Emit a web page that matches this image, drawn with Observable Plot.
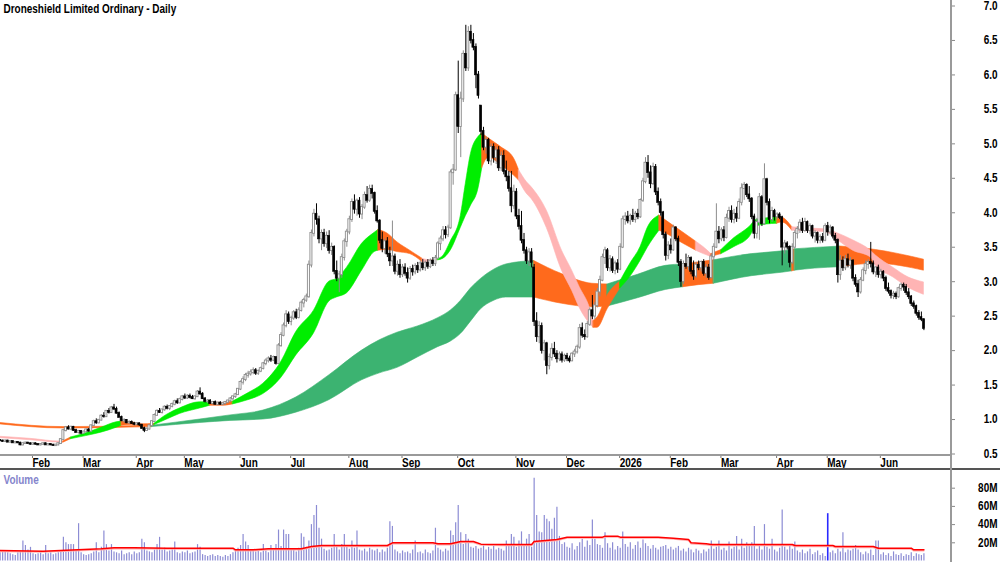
<!DOCTYPE html>
<html>
<head>
<meta charset="utf-8">
<script src="https://cdn.jsdelivr.net/npm/d3@7"></script>
<script src="https://cdn.jsdelivr.net/npm/@observablehq/plot@0.6"></script>
<style>
  html, body { margin: 0; padding: 0; background: #fff; }
  #wrap { position: relative; width: 1000px; height: 562px; overflow: hidden; background: #fff; }
  #price { position: absolute; left: 0; top: 0; }
  #vol { position: absolute; left: 0; top: 469px; }
  .hline { position: absolute; left: 0; height: 2px; }
  .vline { position: absolute; top: 0; width: 2px; height: 562px; background: #9a9a9a; left: 950px; }
</style>
</head>
<body>
<div id="wrap">
  <div id="price"></div>
  <div id="vol"></div>
  <div class="hline" style="top:454px;width:952px;background:#9a9a9a"></div>
  <div class="hline" style="top:468px;width:1000px;background:#555"></div>
  <div class="vline"></div>
</div>
<script>
// ---------------- data ----------------
const title = "Droneshield Limited Ordinary - Daily";
const firstDay = -12; // trading-day index of the first candle (day 0 = first trading day of Feb 2025)

// month ticks (trading-day index) and labels
const monthDays = [0, 20, 41, 60, 82, 102, 125, 146, 168, 191, 211, 232, 252, 272, 294, 314, 335];
const monthLabels = ["Feb", "Mar", "Apr", "May", "Jun", "Jul", "Aug", "Sep", "Oct", "Nov", "Dec", "2026", "Feb", "Mar", "Apr", "May", "Jun"];
const priceTicks = [0.5, 1, 1.5, 2, 2.5, 3, 3.5, 4, 4.5, 5, 5.5, 6, 6.5, 7];
const volumeTicks = [20, 40, 60, 80]; // millions

// daily candles [open, high, low, close]
const ohlc = [
[.70,.71,.68,.69],[.69,.70,.67,.68],[.68,.70,.67,.69],[.69,.70,.67,.67],[.67,.69,.66,.68],[.68,.69,.66,.66],[.66,.68,.65,.67],[.67,.68,.65,.66],[.66,.67,.62,.63],[.63,.66,.62,.65],
[.65,.67,.64,.66],[.66,.67,.64,.65],[.65,.66,.63,.64],[.64,.66,.63,.65],[.65,.66,.63,.64],[.64,.65,.62,.63],[.63,.65,.62,.64],[.64,.66,.63,.65],[.65,.66,.63,.63],[.63,.65,.62,.64],
[.64,.65,.62,.63],[.63,.64,.61,.62],[.62,.64,.61,.63],[.63,.66,.62,.65],[.65,.72,.64,.71],[.71,.86,.70,.84],[.84,.90,.82,.88],[.88,.91,.85,.86],[.86,.90,.84,.89],[.89,.90,.83,.84],
[.84,.86,.80,.81],[.81,.84,.79,.83],[.83,.84,.78,.80],[.80,.83,.79,.82],[.82,.86,.81,.85],[.85,.87,.82,.83],[.83,.92,.82,.91],[.91,.99,.90,.97],[.97,1.01,.93,.95],[.95,1.00,.94,.99],
[.99,1.07,.98,1.05],[1.05,1.10,1.02,1.04],[1.04,1.13,1.03,1.12],[1.12,1.16,1.08,1.10],[1.10,1.19,1.09,1.17],[1.17,1.22,1.13,1.15],[1.15,1.18,1.08,1.09],[1.09,1.11,1.02,1.03],[1.03,1.05,.97,.98],[.98,1.01,.95,.99],
[.99,1.00,.94,.95],[.95,.98,.93,.96],[.96,.98,.93,.94],[.94,.96,.91,.93],[.93,.95,.91,.94],[.94,.95,.90,.92],[.92,.93,.86,.87],[.87,.89,.81,.84],[.84,.88,.83,.86],[.86,.92,.85,.91],
[.91,.98,.90,.97],[.97,1.08,.96,1.06],[1.06,1.14,1.05,1.12],[1.12,1.16,1.09,1.10],[1.10,1.15,1.08,1.14],[1.14,1.20,1.12,1.18],[1.18,1.21,1.14,1.16],[1.16,1.20,1.13,1.19],[1.19,1.24,1.17,1.22],[1.22,1.28,1.20,1.26],
[1.26,1.30,1.22,1.24],[1.24,1.31,1.23,1.29],[1.29,1.35,1.27,1.33],[1.33,1.37,1.29,1.31],[1.31,1.36,1.29,1.34],[1.34,1.37,1.30,1.32],[1.32,1.35,1.29,1.30],[1.30,1.34,1.28,1.33],[1.33,1.42,1.32,1.40],[1.40,1.46,1.35,1.37],
[1.37,1.39,1.29,1.30],[1.30,1.32,1.24,1.26],[1.26,1.29,1.23,1.27],[1.27,1.29,1.22,1.23],[1.23,1.26,1.21,1.25],[1.25,1.27,1.21,1.22],[1.22,1.25,1.20,1.24],[1.24,1.26,1.21,1.22],[1.22,1.25,1.20,1.23],[1.23,1.26,1.21,1.25],
[1.25,1.28,1.23,1.27],[1.27,1.32,1.25,1.30],[1.30,1.34,1.27,1.33],[1.33,1.38,1.31,1.36],[1.36,1.45,1.35,1.44],[1.44,1.56,1.42,1.54],[1.54,1.62,1.50,1.58],[1.58,1.67,1.55,1.64],[1.64,1.70,1.60,1.66],[1.66,1.72,1.63,1.68],
[1.68,1.75,1.65,1.71],[1.71,1.74,1.64,1.67],[1.67,1.72,1.64,1.70],[1.70,1.76,1.68,1.74],[1.74,1.83,1.72,1.81],[1.81,1.88,1.78,1.85],[1.85,1.91,1.82,1.88],[1.88,1.93,1.83,1.86],[1.86,1.92,1.84,1.90],[1.90,1.91,1.79,1.81],
[1.81,2.10,1.80,2.07],[2.07,2.26,2.05,2.22],[2.22,2.40,2.20,2.36],[2.36,2.58,2.33,2.52],[2.52,2.56,2.38,2.42],[2.42,2.50,2.36,2.47],[2.47,2.58,2.44,2.55],[2.55,2.60,2.45,2.48],[2.48,2.62,2.46,2.58],[2.58,2.72,2.56,2.69],
[2.69,2.76,2.62,2.73],[2.73,2.82,2.70,2.78],[2.78,3.30,2.76,3.24],[3.24,3.75,3.20,3.70],[3.70,4.05,3.65,3.98],[3.98,4.13,3.82,3.90],[3.90,3.95,3.55,3.62],[3.62,3.75,3.45,3.70],[3.70,3.76,3.50,3.55],[3.55,3.72,3.48,3.66],
[3.66,3.74,3.40,3.45],[3.45,3.56,3.38,3.50],[3.50,3.52,3.10,3.15],[3.15,3.30,3.00,3.05],[3.05,3.15,2.84,3.10],[3.10,3.40,3.05,3.35],[3.35,3.62,3.30,3.58],[3.58,3.76,3.50,3.72],[3.72,3.95,3.68,3.90],[3.90,4.20,3.86,4.15],
[4.15,4.26,3.98,4.05],[4.05,4.20,3.95,4.17],[4.17,4.22,3.92,3.98],[3.98,4.12,3.90,4.08],[4.08,4.30,4.05,4.25],[4.25,4.38,4.14,4.18],[4.18,4.40,4.15,4.34],[4.34,4.40,4.20,4.28],[4.28,4.30,3.98,4.02],[4.02,4.10,3.85,3.88],
[3.88,3.90,3.55,3.60],[3.60,3.72,3.42,3.48],[3.48,3.62,3.40,3.58],[3.58,3.64,3.35,3.40],[3.40,3.50,3.22,3.30],[3.30,3.88,3.22,3.36],[3.36,3.40,3.10,3.15],[3.15,3.30,3.08,3.24],[3.24,3.32,3.05,3.10],[3.10,3.25,3.06,3.20],
[3.20,3.26,3.08,3.12],[3.12,3.20,2.98,3.05],[3.05,3.22,3.02,3.18],[3.18,3.24,3.08,3.14],[3.14,3.26,3.10,3.22],[3.22,3.28,3.12,3.17],[3.17,3.30,3.14,3.26],[3.26,3.32,3.16,3.20],[3.20,3.30,3.15,3.27],[3.27,3.32,3.18,3.22],
[3.22,3.33,3.19,3.30],[3.30,3.35,3.22,3.26],[3.26,3.38,3.22,3.34],[3.34,3.58,3.32,3.55],[3.55,3.66,3.45,3.62],[3.62,3.80,3.58,3.74],[3.74,3.80,3.62,3.68],[3.68,3.82,3.64,3.78],[3.78,4.62,3.76,4.58],[4.58,4.70,4.40,4.62],
[4.62,5.75,4.60,5.70],[5.70,6.20,5.15,5.25],[5.25,5.75,4.80,5.65],[5.65,6.35,5.60,6.30],[6.30,6.72,6.05,6.10],[6.10,6.70,6.05,6.62],[6.62,6.72,6.45,6.50],[6.50,6.60,6.35,6.40],[6.40,6.45,5.80,6.00],[6.00,6.05,5.65,5.70],
[5.55,5.55,5.12,5.18],[5.18,5.24,4.90,4.95],[4.95,5.10,4.85,5.05],[5.05,5.08,4.70,4.75],[4.75,5.00,4.68,4.95],[4.95,5.00,4.72,4.80],[4.80,4.95,4.70,4.90],[4.90,4.96,4.60,4.65],[4.65,4.88,4.60,4.82],[4.82,4.90,4.55,4.60],
[4.60,4.75,4.45,4.52],[4.52,4.60,4.30,4.35],[4.35,4.60,4.00,4.10],[4.10,4.40,4.05,4.30],[4.30,4.35,3.90,3.95],[3.95,4.05,3.75,3.80],[3.80,4.02,3.55,3.60],[3.60,3.70,3.40,3.45],[3.45,3.50,3.25,3.30],[3.30,3.48,3.22,3.42],
[3.42,3.48,3.20,3.28],[3.20,3.25,2.35,2.42],[2.42,2.55,2.12,2.20],[2.20,2.42,2.10,2.35],[2.35,2.40,1.95,2.00],[2.00,2.15,1.85,2.10],[2.10,2.12,1.65,1.78],[1.78,1.95,1.72,1.90],[1.90,2.10,1.85,2.02],[2.02,2.12,1.90,1.95],
[1.95,2.00,1.82,1.88],[1.88,1.98,1.84,1.94],[1.94,1.98,1.82,1.86],[1.86,1.95,1.83,1.92],[1.92,1.96,1.84,1.88],[1.88,1.92,1.82,1.85],[1.85,1.97,1.84,1.95],[1.95,2.02,1.90,1.98],[1.98,2.08,1.95,2.05],[2.05,2.38,2.02,2.32],
[2.32,2.40,2.18,2.22],[2.22,2.30,2.15,2.20],[2.20,2.42,2.18,2.38],[2.38,2.62,2.35,2.58],[2.58,2.80,2.45,2.50],[2.50,2.70,2.45,2.65],[2.65,2.90,2.62,2.85],[2.85,3.08,2.78,3.02],[3.02,3.40,3.00,3.35],[3.35,3.50,3.25,3.45],
[3.45,3.48,3.15,3.20],[3.20,3.38,3.14,3.32],[3.32,3.36,3.12,3.16],[3.16,3.30,3.10,3.26],[3.26,3.32,3.12,3.18],[3.18,3.55,3.16,3.50],[3.50,3.95,3.48,3.90],[3.90,4.00,3.82,3.94],[3.94,4.02,3.84,3.88],[3.88,3.98,3.82,3.95],
[3.95,4.05,3.86,3.90],[3.90,4.02,3.85,3.98],[3.98,4.05,3.90,3.94],[3.94,4.20,3.92,4.18],[4.18,4.50,4.15,4.45],[4.45,4.80,4.42,4.72],[4.72,4.83,4.50,4.58],[4.58,4.68,4.35,4.42],[4.42,4.72,4.40,4.66],[4.66,4.70,4.25,4.30],
[4.30,4.36,4.10,4.15],[4.15,4.20,3.95,4.00],[4.00,4.02,3.62,3.68],[3.68,3.72,3.30,3.38],[3.38,3.58,3.32,3.52],[3.52,3.62,3.40,3.46],[3.46,3.82,3.44,3.78],[3.78,3.80,3.58,3.62],[3.62,3.66,3.22,3.28],[3.28,3.32,2.92,3.00],
[3.00,3.30,2.96,3.25],[3.25,3.40,3.18,3.22],[3.22,3.38,3.16,3.34],[3.34,3.36,3.10,3.15],[3.15,3.30,3.02,3.08],[3.08,3.28,3.05,3.24],[3.24,3.30,3.16,3.20],[3.20,3.30,3.14,3.28],[3.28,3.32,3.08,3.12],[3.12,3.25,3.05,3.20],
[3.20,3.25,3.02,3.06],[3.06,3.40,3.04,3.36],[3.36,3.55,3.30,3.50],[3.50,4.13,3.48,3.72],[3.72,3.80,3.55,3.62],[3.62,3.78,3.58,3.74],[3.74,3.80,3.58,3.64],[3.64,3.98,3.62,3.92],[3.92,4.08,3.86,4.02],[4.02,4.10,3.85,3.90],
[3.90,4.05,3.84,3.98],[3.98,4.08,3.86,3.92],[3.92,4.20,3.90,4.15],[4.15,4.42,4.10,4.35],[4.35,4.44,4.18,4.40],[4.40,4.42,4.22,4.26],[4.26,4.38,4.15,4.20],[4.20,4.22,3.90,3.94],[3.94,3.98,3.62,3.70],[3.70,3.92,3.62,3.86],
[3.86,4.28,3.60,4.22],[4.22,4.25,3.80,3.84],[3.84,4.71,3.82,4.48],[4.48,4.50,4.10,4.15],[4.15,4.20,3.84,3.90],[3.90,4.08,3.86,4.02],[4.02,4.05,3.88,3.94],[3.94,4.00,3.90,3.97],[3.97,4.00,3.90,3.93],[3.93,3.95,3.23,3.50],
[3.50,3.60,3.40,3.55],[3.55,3.58,3.46,3.50],[3.50,3.52,3.20,3.28],[3.28,3.55,3.25,3.50],[3.50,3.74,3.48,3.70],[3.70,3.80,3.62,3.76],[3.76,3.90,3.70,3.85],[3.85,3.92,3.70,3.74],[3.74,3.92,3.72,3.86],[3.86,3.88,3.70,3.74],
[3.74,3.84,3.68,3.80],[3.80,3.82,3.62,3.66],[3.66,3.74,3.56,3.70],[3.70,3.72,3.55,3.60],[3.60,3.68,3.55,3.64],[3.64,3.70,3.56,3.60],[3.60,3.84,3.58,3.80],[3.80,3.86,3.66,3.72],[3.72,3.82,3.68,3.78],[3.78,3.80,3.62,3.66],
[3.66,3.70,3.55,3.60],[3.60,3.62,2.98,3.10],[3.10,3.38,3.02,3.30],[3.30,3.36,3.15,3.20],[3.20,3.38,3.16,3.32],[3.32,3.40,3.20,3.24],[3.24,3.35,3.18,3.30],[3.30,3.32,3.00,3.05],[3.05,3.10,2.92,2.96],[2.96,3.02,2.77,2.85],
[2.85,3.06,2.82,3.02],[3.02,3.20,3.00,3.16],[3.16,3.30,3.10,3.25],[3.25,3.32,3.18,3.28],[3.28,3.57,3.20,3.26],[3.26,3.30,3.10,3.14],[3.14,3.22,3.06,3.20],[3.20,3.24,3.05,3.10],[3.10,3.18,3.04,3.14],[3.14,3.16,3.00,3.05],
[3.05,3.08,2.86,2.90],[2.90,2.98,2.82,2.86],[2.86,2.88,2.75,2.80],[2.80,2.86,2.74,2.82],[2.82,2.85,2.74,2.78],[2.78,2.92,2.76,2.90],[2.90,2.98,2.86,2.95],[2.95,2.98,2.86,2.92],[2.92,2.96,2.80,2.84],[2.84,2.90,2.74,2.78],
[2.78,2.80,2.64,2.68],[2.68,2.72,2.60,2.64],[2.64,2.66,2.50,2.54],[2.54,2.58,2.44,2.48],[2.48,2.56,2.42,2.45],[2.45,2.46,2.29,2.32]
];

// daily volume, millions of shares (same days as the candles)
const volumeM = [
9,11,10,9,8,7,6,9,10,22,
17,12,15,8,7,8,9,7,17,8,
9,7,8,9,10,26,20,18,18,18,
12,41,9,7,6,7,8,10,20,9,
15,33,18,11,18,10,9,8,11,7,
8,9,7,10,8,9,24,20,11,10,
9,12,18,26,12,14,10,11,13,21,
9,8,10,9,11,8,9,10,18,15,
7,6,5,6,7,5,6,5,4,6,
5,7,9,12,14,17,29,21,17,12,
11,10,12,9,18,11,9,17,12,18,
34,16,34,29,29,13,12,10,14,30,
26,15,22,40,50,61,36,24,13,11,
12,14,29,15,12,18,29,16,13,22,
14,33,12,11,13,10,14,12,11,13,
9,12,10,14,43,38,12,10,8,11,
9,10,8,12,22,9,10,8,12,9,
8,11,36,14,12,10,13,11,33,28,
42,61,31,18,29,24,15,14,16,13,
14,17,12,15,13,16,12,14,13,11,
22,16,29,26,15,22,32,18,24,29,
15,91,50,32,31,50,46,43,35,47,
59,27,18,20,15,14,19,12,16,20,
24,15,22,17,45,24,18,17,14,31,
19,14,20,12,16,14,32,18,15,20,
13,17,21,14,23,19,16,13,17,14,
12,15,16,17,13,15,12,14,16,11,
13,10,14,12,9,13,11,8,12,10,
13,22,13,15,22,12,14,11,21,13,
15,27,12,24,14,20,18,20,38,13,
18,12,40,15,13,24,12,10,14,56,
15,12,16,13,21,11,9,12,8,10,
13,7,9,11,6,8,5,52,9,11,
8,13,10,31,9,12,11,13,17,12,
9,7,10,8,12,6,22,22,7,9,
6,8,5,10,7,6,8,5,7,6,
9,5,8,7,6,8
];
const highlightVolumeDays = [315];

// volume moving average (millions), read at its turning points
const maDays = [-12, 5, 28, 33, 41, 54, 80, 81, 88, 94, 107, 111, 115, 141, 143, 159, 161, 166, 170, 175, 178, 186, 198, 199, 208, 212, 226, 227, 232, 233, 248, 254, 260, 261, 267, 269, 301, 302, 317, 318, 333, 335, 348, 349, 353];
const maVolumeM = [11.5, 10.8, 13.4, 14.5, 14.5, 14.1, 14.1, 12.3, 12.3, 13.4, 13.4, 15.9, 17.0, 17.0, 20.0, 20.0, 18.9, 18.9, 21.4, 21.4, 18.5, 18.1, 18.1, 21.4, 23.6, 26.2, 26.2, 27.3, 27.3, 26.2, 26.2, 25.1, 23.6, 20.0, 18.9, 18.1, 18.1, 17.0, 17.0, 15.9, 15.9, 14.1, 14.1, 12.3, 12.3];

// short-term moving-average band (edges)
const shortDays = [-12, 0, 12, 13, 16, 22, 28, 34, 36, 40, 44, 49, 54, 59, 67, 71, 76, 80, 86, 92, 99, 105, 112, 118, 121, 125, 131, 136, 137.5, 141, 145, 150, 155, 158, 161, 163, 166, 170, 172, 174, 177, 178.5, 181, 186, 191, 193, 196, 198, 204, 210, 214, 217, 221, 222.5, 224, 228, 233, 237, 241, 244, 248.5, 251, 258, 263, 266, 269, 273, 278, 284, 287, 291, 295, 297, 301, 308, 314, 319, 325, 332, 334, 341, 347, 353];
const shortLow = [.73, .70, .665, .665, .715, .76, .81, .88, .91, .92, .90, .92, 1.00, 1.08, 1.16, 1.20, 1.20, 1.22, 1.28, 1.37, 1.60, 1.93, 2.25, 2.71, 2.77, 2.83, 3.16, 3.43, 3.45, 3.46, 3.43, 3.40, 3.28, 3.29, 3.31, 3.33, 3.45, 3.78, 3.95, 4.10, 4.35, 4.65, 4.80, 4.69, 4.54, 4.47, 4.28, 4.20, 3.78, 3.16, 2.87, 2.62, 2.39, 2.33, 2.33, 2.60, 2.90, 3.07, 3.30, 3.50, 3.74, 3.70, 3.55, 3.45, 3.40, 3.36, 3.40, 3.50, 3.64, 3.80, 3.83, 3.84, 3.86, 3.74, 3.73, 3.72, 3.60, 3.45, 3.35, 3.23, 3.06, 2.91, 2.81];
const shortHigh = [.75, .72, .68, .685, .74, .80, .88, .96, .97, .96, .93, .94, 1.07, 1.16, 1.25, 1.25, 1.24, 1.26, 1.38, 1.52, 1.83, 2.27, 2.58, 3.00, 3.04, 3.20, 3.55, 3.71, 3.75, 3.70, 3.57, 3.45, 3.33, 3.31, 3.33, 3.37, 3.58, 3.95, 4.42, 4.85, 5.10, 5.15, 5.08, 4.95, 4.79, 4.62, 4.45, 4.37, 4.03, 3.45, 3.16, 2.92, 2.62, 2.43, 2.48, 2.80, 3.00, 3.26, 3.50, 3.79, 3.96, 3.89, 3.71, 3.58, 3.50, 3.40, 3.46, 3.63, 3.79, 3.90, 3.92, 3.94, 3.93, 3.79, 3.77, 3.76, 3.70, 3.60, 3.45, 3.38, 3.20, 3.06, 2.99];
const shortColourRuns = [[-12, 13, "pink"], [13, 16, "orange"], [16, 36, "green"], [36, 49, "orange"], [49, 71, "green"], [71, 80, "orange"], [80, 137.5, "green"], [137.5, 155, "orange"], [155, 161, "pink"], [161, 178.5, "green"], [178.5, 193, "orange"], [193, 222.5, "pink"], [222.5, 233, "orange"], [233, 248.5, "green"], [248.5, 263, "orange"], [263, 269, "pink"], [269, 273, "orange"], [273, 295, "green"], [295, 301, "orange"], [301, 353, "pink"]];

// long-term moving-average band
const longDays = [-12, 13, 30, 48, 67, 79, 92, 105, 118, 131, 138, 145, 153, 161, 166, 170, 174, 178, 183, 188, 199, 210, 222, 228, 240, 251, 258, 264, 270, 285, 297, 301, 302, 310, 320, 334, 353];
const longLow = [.93, .87, .875, .89, .95, .98, 1.00, 1.10, 1.28, 1.57, 1.67, 1.75, 1.90, 2.05, 2.13, 2.24, 2.42, 2.60, 2.72, 2.77, 2.77, 2.68, 2.63, 2.64, 2.76, 2.88, 2.92, 2.95, 2.97, 3.08, 3.13, 3.15, 3.16, 3.19, 3.21, 3.26, 3.16];
const longHigh = [.95, .89, .895, .91, 1.00, 1.06, 1.13, 1.32, 1.64, 2.00, 2.15, 2.26, 2.35, 2.47, 2.58, 2.72, 2.90, 3.04, 3.17, 3.25, 3.30, 3.11, 2.97, 2.96, 3.10, 3.23, 3.25, 3.28, 3.31, 3.40, 3.44, 3.46, 3.47, 3.49, 3.51, 3.46, 3.32];
const longColourRuns = [[-12, 48, "orange"], [48, 199, "darkgreen"], [199, 228, "orange"], [228, 258, "darkgreen"], [258, 270, "orange"], [270, 301, "darkgreen"], [301, 302, "orange"], [302, 320, "darkgreen"], [320, 353, "orange"]];

const palette = { green: "#00ee00", orange: "#ff6a1c", pink: "#ffb4b4", darkgreen: "#3cb371" };

// ---------------- build ----------------
const FONT = "'Liberation Sans Narrow','Arial Narrow','Liberation Sans',Arial,sans-serif";
const xDomain = [-11.85, 363.9];
const xRange = [0, 951];

const candles = ohlc.map(([o, h, l, c], k) => ({ day: firstDay + k, o, h, l, c }));
const upC = candles.filter(d => d.c >= d.o);
const downC = candles.filter(d => d.c < d.o);
const volRows = volumeM.map((v, k) => ({ day: firstDay + k, v }));
const maRows = maDays.map((d, k) => ({ day: d, v: maVolumeM[k] }));
const rowsOf = (days, lo, hi) => days.map((d, k) => ({ day: d, lo: lo[k], hi: hi[k] }));
const shortRows = rowsOf(shortDays, shortLow, shortHigh);
const longRows = rowsOf(longDays, longLow, longHigh);
const monthLabelOf = new Map(monthDays.map((d, k) => [d, monthLabels[k]]));

const bandMarks = (rows, runs) => runs.map(([a, b, key]) =>
  Plot.areaY(rows.filter(r => r.day >= a && r.day <= b), {
    x: "day", y1: "lo", y2: "hi", fill: palette[key], stroke: palette[key], strokeWidth: 0.6, curve: "monotone-x"
  }));

const style = { fontFamily: FONT, fontSize: "12px", fontWeight: "bold", background: "transparent", overflow: "visible", color: "#000" };

const pricePlot = Plot.plot({
  width: 1000, height: 469,
  marginTop: 0, marginRight: 49, marginBottom: 14, marginLeft: 0,
  style,
  x: { type: "linear", domain: xDomain, range: xRange, axis: null },
  y: { type: "linear", domain: [0.5, 7], range: [453.5, 5.5], axis: null },
  marks: [
    ...bandMarks(longRows, longColourRuns),
    ...bandMarks(shortRows, shortColourRuns),
    Plot.ruleX(upC, { x: "day", y1: "l", y2: "h", stroke: "#8c8c8c", strokeWidth: 1 }),
    Plot.ruleX(downC, { x: "day", y1: "l", y2: "h", stroke: "#000", strokeWidth: 1 }),
    Plot.rect(upC, { x1: d => d.day - 0.4, x2: d => d.day + 0.4, y1: "o", y2: "c", fill: "#fff", stroke: "#8c8c8c", strokeWidth: 0.9, insetTop: -0.4, insetBottom: -0.4 }),
    Plot.rect(downC, { x1: d => d.day - 0.4, x2: d => d.day + 0.4, y1: "o", y2: "c", fill: "#000", stroke: "#000", strokeWidth: 0.6, insetTop: -0.4, insetBottom: -0.4 }),
    Plot.axisX({ anchor: "bottom", label: null, ticks: monthDays, tickFormat: d => monthLabelOf.get(d), tickSize: 3, tickPadding: 0.3, textAnchor: "start", dx: 2, stroke: "#777" }),
    Plot.axisY({ anchor: "right", label: null, ticks: priceTicks, tickFormat: d => d.toFixed(1), tickSize: 3, tickPadding: 43, textAnchor: "end", stroke: "#888" }),
    Plot.text([title], { text: d => d, frameAnchor: "top-left", dx: 3, dy: 4, lineAnchor: "top", textAnchor: "start" })
  ]
});
document.getElementById("price").appendChild(pricePlot);

const volPlot = Plot.plot({
  width: 1000, height: 93,
  marginTop: 0, marginRight: 49, marginBottom: 0, marginLeft: 0,
  style,
  x: { type: "linear", domain: xDomain, range: xRange, axis: null },
  y: { type: "linear", domain: [0, 100], range: [91.5, 0.5], axis: null },
  marks: [
    Plot.ruleX(volRows.filter(d => !highlightVolumeDays.includes(d.day)), { x: "day", y1: 0, y2: "v", stroke: "#8c8cd4", strokeWidth: 1.2 }),
    Plot.ruleX(volRows.filter(d => highlightVolumeDays.includes(d.day)), { x: "day", y1: 0, y2: "v", stroke: "#2a2aff", strokeWidth: 1.6 }),
    Plot.line(maRows, { x: "day", y: "v", stroke: "#ffb0b0", strokeWidth: 1.4, dy: 1 }),
    Plot.line(maRows, { x: "day", y: "v", stroke: "#ff0000", strokeWidth: 1.5 }),
    Plot.axisY({ anchor: "right", label: null, ticks: volumeTicks, tickFormat: d => d + "M", tickSize: 3, tickPadding: 43, textAnchor: "end", stroke: "#888" }),
    Plot.text(["Volume"], { text: d => d, frameAnchor: "top-left", dx: 3, dy: 6, lineAnchor: "top", textAnchor: "start", fill: "#8585cc" })
  ]
});
document.getElementById("vol").appendChild(volPlot);

// the original uses a narrow bold face: condense the installed regular-width face to match
for (const svg of [pricePlot, volPlot]) {
  svg.querySelectorAll("text").forEach(t => {
    const len = t.getComputedTextLength();
    if (len > 0) {
      t.setAttribute("textLength", (len * 0.83).toFixed(2));
      t.setAttribute("lengthAdjust", "spacingAndGlyphs");
    }
  });
}
</script>
</body>
</html>
